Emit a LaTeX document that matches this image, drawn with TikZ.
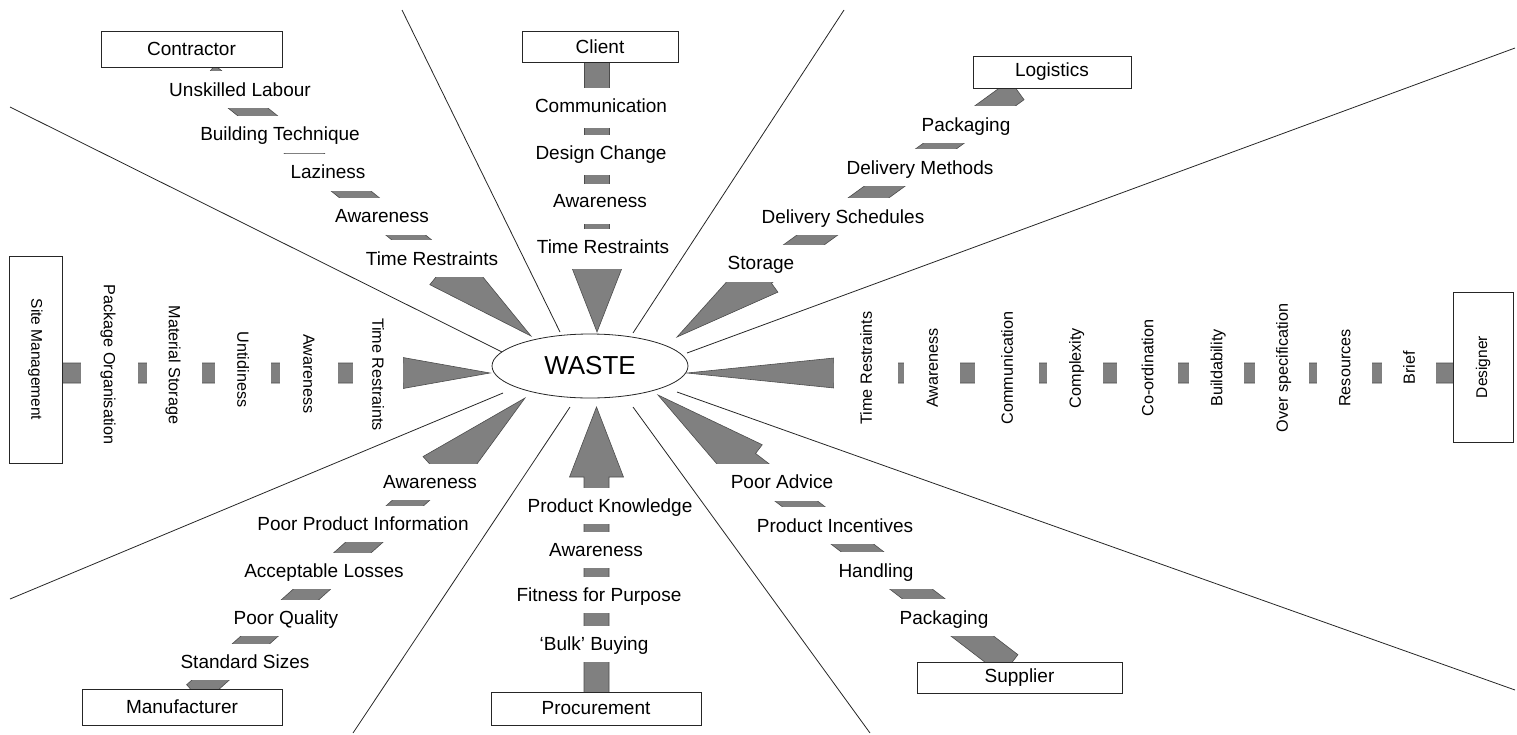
\documentclass[tikz,border=0pt]{standalone}
\usepackage{fontspec}
\setmainfont{Liberation Sans}
\usetikzlibrary{calc,shapes.geometric}

\begin{document}
\begin{tikzpicture}[x=1pt,y=-1pt,
        divider/.style={draw=black!85,line width=0.8pt},
        arrowpart/.style={fill=gray,draw=black!70,line width=0.6pt},
        lbl/.style={fill=white,inner xsep=32pt,inner ysep=0pt,minimum height=37pt,
                text height=13.5pt,text depth=0pt,font=\fontsize{19}{22}\selectfont},
        vlbl/.style={fill=white,inner xsep=6pt,inner ysep=0pt,
                text height=11.5pt,text depth=0pt,font=\fontsize{16.2}{19}\selectfont},
        stake/.style={draw=black!85,fill=white,line width=1pt,inner sep=0pt,
                font=\fontsize{19}{22}\selectfont}]
        \useasboundingbox (0,0) rectangle (1517,734);

        % arrow ends: tail under the box, tip at the ellipse
        \coordinate (con-t) at (207,75);     \coordinate (con-h) at (531,336);
        \coordinate (cli-t) at (597,50);     \coordinate (cli-h) at (597,332);
        \coordinate (log-t) at (1017,90);    \coordinate (log-h) at (677,337);
        \coordinate (des-t) at (1480,373);   \coordinate (des-h) at (687,373);
        \coordinate (sup-t) at (1010,665);   \coordinate (sup-h) at (658,395);
        \coordinate (pro-t) at (596.5,705);  \coordinate (pro-h) at (596.5,407);
        \coordinate (man-t) at (195,694);    \coordinate (man-h) at (525,398);
        \coordinate (sit-t) at (40,373);     \coordinate (sit-h) at (490,373);

        \foreach \tail/\tip/\sw/\hw/\hl in {con-t/con-h/12.5pt/23.5pt/111pt,
                cli-t/cli-h/12.5pt/25pt/64pt, log-t/log-h/12pt/23pt/108pt,
                des-t/des-h/10pt/15pt/147pt, sup-t/sup-h/13pt/24pt/113pt,
                pro-t/pro-h/12.5pt/27pt/70pt, man-t/man-h/12.5pt/24.5pt/115pt,
                sit-t/sit-h/10pt/15.5pt/87pt} {
                \coordinate (base) at ($(\tip)!\hl!(\tail)$);
                \filldraw[arrowpart] ($(\tail)!\sw!90:(\tip)$) -- ($(base)!\sw!-90:(\tail)$)
                        -- ($(base)!\hw!-90:(\tail)$) -- (\tip) -- ($(base)!\hw!90:(\tail)$)
                        -- ($(base)!\sw!90:(\tail)$) -- ($(\tail)!\sw!-90:(\tip)$) -- cycle;
        }

        % contractor
        \foreach \x/\y/\txt [count=\i] in {240/89.5/Unskilled Labour,280/134/Building Technique,
                328/172/Laziness,382/216/Awareness,432/258.5/Time Restraints}
                \node[lbl] (con\i) at (\x,\y) {\txt};
        % client
        \foreach \x/\y/\txt [count=\i] in {601/108/Communication,601/155/Design Change,
                600/203.5/Awareness,603/249/Time Restraints}
                \node[lbl,minimum height=40pt,text depth=5pt] (cli\i) at (\x,\y) {\txt};
        % logistics
        \foreach \x/\y/\txt [count=\i] in {966/124.5/Packaging,920/167.5/Delivery Methods,
                843/216.5/Delivery Schedules,761/263/Storage}
                \node[lbl] (log\i) at (\x,\y) {\txt};
        % supplier
        \foreach \x/\y/\txt [count=\i] in {782/482/Poor Advice,835/525.5/Product Incentives,
                876/570.5/Handling,944/617.5/Packaging}
                \node[lbl] (sup\i) at (\x,\y) {\txt};
        % procurement
        \foreach \x/\y/\txt [count=\i] in {610/506/Product Knowledge,596/550/Awareness,
                599/594.5/Fitness for Purpose,594/644/`Bulk' Buying}
                \node[lbl,minimum height=36pt] (pro\i) at (\x,\y) {\txt};
        % manufacturer
        \foreach \x/\y/\txt [count=\i] in {430/482/Awareness,363/523.5/Poor Product Information,
                324/570.5/Acceptable Losses,286/617.5/Poor Quality,245/661.5/Standard Sizes}
                \node[lbl,minimum height=36pt] (man\i) at (\x,\y) {\txt};
        % site management
        \foreach \x/\y/\w/\txt [count=\i] in {109.5/364.5/57/Package Organisation,
                174.5/365/55/Material Storage,243/369.5/56/Untidiness,
                309/374/58/Awareness,378/374.5/50/Time Restraints}
                \node[vlbl,rotate=-90,minimum height=\w pt] (sit\i) at (\x,\y) {\txt};
        % designer
        \foreach \x/\w/\txt [count=\i] in {866/64/Time Restraints,932/56/Awareness,
                1007/64/Communication,1075/56/Complexity,1147.5/61/Co-ordination,
                1216.5/55/Buildability,1282/54/Over specification,1344.5/55/Resources,
                1409/54/Brief}
                \node[vlbl,rotate=90,minimum height=\w pt] (des\i) at (\x,368) {\txt};

        % dividing lines
        \foreach \xa/\ya/\xb/\yb in {10/107/502/352,402/10/560/332,844/10/633/333,
                1515/48/687/353,677/392/1515/690,633/407/870/733,570/407/353/733,10/599/503/393}
                \draw[divider] (\xa,\ya) -- (\xb,\yb);

        \node[stake,minimum width=181pt,minimum height=36pt] (contractor) at (191.5,49) {Contractor};
        \node[stake,minimum width=156pt,minimum height=31pt] (client) at (600,46.5) {Client};
        \node[stake,minimum width=158pt,minimum height=32pt] (logistics) at (1052,72) {Logistics};
        \node[stake,rotate=-90,minimum width=207pt,minimum height=53pt,
                font=\fontsize{15.5}{18}\selectfont] (site) at (35.5,359.5) {Site Management};
        \node[stake,rotate=90,minimum width=150pt,minimum height=60pt,
                font=\fontsize{15.5}{18}\selectfont] (designer) at (1483,367) {Designer};
        \node[stake,minimum width=200pt,minimum height=36pt] (manufacturer) at (182,707) {Manufacturer};
        \node[stake,minimum width=210pt,minimum height=33pt] (procurement) at (596,708.5) {Procurement};
        \node[stake,minimum width=205pt,minimum height=31pt] (supplier) at (1019.5,677.5) {Supplier};

        \node[draw=black!85,line width=0.8pt,fill=white,ellipse,minimum width=196pt,
                minimum height=64pt,inner sep=0pt,font=\fontsize{26}{30}\selectfont] (waste) at (590,366) {WASTE};
\end{tikzpicture}
\end{document}
